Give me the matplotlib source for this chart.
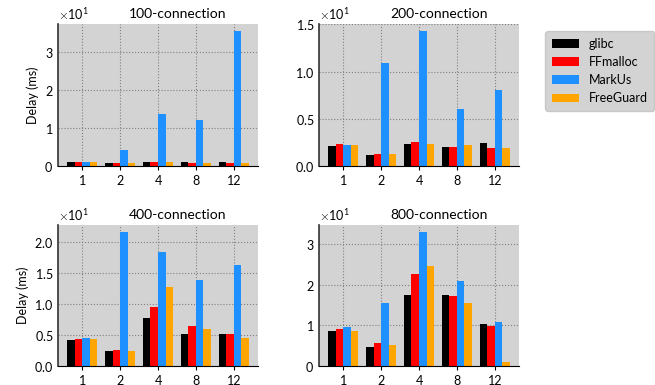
import numpy as np
import matplotlib
matplotlib.use("Agg")
import matplotlib.pyplot as plt
from matplotlib.ticker import ScalarFormatter

plt.rcParams['font.family'] = ['Lato', 'DejaVu Sans']
plt.rcParams['mathtext.fontset'] = 'cm'
plt.rcParams['axes.formatter.use_mathtext'] = True

threads = ['1', '2', '4', '8', '12']
series = ['glibc', 'FFmalloc', 'MarkUs', 'FreeGuard']
colors = ['black', 'red', '#1e90ff', 'orange']
titles = ['100-connection', '200-connection', '400-connection', '800-connection']

c100_glibc = [1.1, 0.7, 1.1, 0.95, 1.1]
c100_ffmalloc = [1.1, 0.7, 1.1, 0.9, 0.9]
c100_markus = [1.1, 4.1, 13.8, 12.0, 35.6]
c100_freeguard = [1.1, 0.7, 1.1, 0.9, 0.9]

c200_glibc = [2.08, 1.13, 2.29, 1.97, 2.39]
c200_ffmalloc = [2.29, 1.23, 2.5, 1.97, 1.87]
c200_markus = [2.18, 10.95, 14.33, 5.99, 8.1]
c200_freeguard = [2.18, 1.23, 2.29, 2.18, 1.87]

c400_glibc = [4.15, 2.4, 7.8, 5.1, 5.1]
c400_ffmalloc = [4.3, 2.55, 9.6, 6.4, 5.1]
c400_markus = [4.47, 21.7, 18.5, 13.9, 16.4]
c400_freeguard = [4.3, 2.4, 12.8, 5.9, 4.47]

c800_glibc = [8.5, 4.6, 17.5, 17.5, 10.2]
c800_ffmalloc = [9.0, 5.6, 22.6, 17.2, 9.9]
c800_markus = [9.5, 15.5, 33.0, 20.9, 10.9]
c800_freeguard = [8.5, 5.1, 24.5, 15.5, 1.0]

panels = [
    [c100_glibc, c100_ffmalloc, c100_markus, c100_freeguard],
    [c200_glibc, c200_ffmalloc, c200_markus, c200_freeguard],
    [c400_glibc, c400_ffmalloc, c400_markus, c400_freeguard],
    [c800_glibc, c800_ffmalloc, c800_markus, c800_freeguard],
]

fig = plt.figure(figsize=(6.55, 3.85), dpi=100)
W, H = 655, 385
rects = [(58, 24, 200, 142), (319, 24, 200, 142), (58, 225, 200, 141), (319, 225, 200, 141)]
x = np.arange(len(threads))
width = 0.2
handles = []
for i, (data, title, r) in enumerate(zip(panels, titles, rects)):
    ax = fig.add_axes([r[0] / W, 1 - (r[1] + r[3]) / H, r[2] / W, r[3] / H])
    ax.set_facecolor('#d3d3d3')
    ax.set_axisbelow(True)
    ax.grid(True, linestyle=':', color='gray', linewidth=0.8)
    for j, (vals, col, name) in enumerate(zip(data, colors, series)):
        b = ax.bar(x + (j - 1.5) * width, vals, width, color=col, label=name)
        if i == 0:
            handles.append(b)
    ymax = max(max(v) for v in data)
    ax.set_ylim(0, ymax * 1.05)
    ax.set_xticks(x)
    ax.set_xticklabels(threads, fontsize=9)
    ax.spines['top'].set_visible(False)
    ax.spines['right'].set_visible(False)
    ax.spines['left'].set_color('#333333')
    ax.spines['left'].set_linewidth(1.2)
    fmt = ScalarFormatter(useMathText=True)
    fmt.set_powerlimits((0, 0))
    ax.yaxis.set_major_formatter(fmt)
    ax.tick_params(axis='y', labelsize=9, length=0)
    ax.tick_params(axis='x', length=3)
    ax.yaxis.get_offset_text().set_fontsize(9)
    ax.set_title(title, fontsize=10, pad=4, x=0.6)
    if i % 2 == 0:
        ax.set_ylabel('Delay (ms)', fontsize=9)

fig.legend(handles, series, loc='upper left', bbox_to_anchor=(539 / W, 1 - 25 / H),
           fontsize=9, facecolor='#d3d3d3', edgecolor='#c8c8c8', framealpha=1,
           handlelength=2.2, borderpad=0.5)
fig.savefig('out.png', dpi=100)
